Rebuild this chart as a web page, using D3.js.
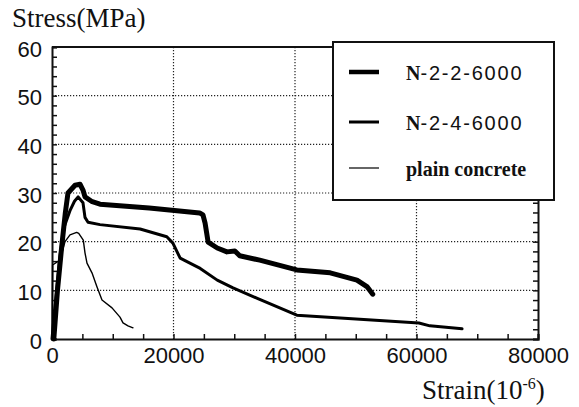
<!DOCTYPE html>
<html>
<head>
<meta charset="utf-8">
<script src="https://cdn.jsdelivr.net/npm/d3@7"></script>
<style>
  body { margin: 0; background: #fff; }
  .tick text { font-family: "Liberation Sans", Arial, sans-serif; font-size: 22px; fill: #111; }
</style>
</head>
<body>
<div id="chart"></div>
<script>
// data

const seriesNames = ["N-2-2-6000", "N-2-4-6000", "plain concrete"];

const strain22 = [300, 900, 1600, 2200, 2630, 3790, 4610, 5100, 5430, 6500, 7900, 16000, 24300, 24850, 25200, 25700, 27200, 28800, 30100, 30900, 34200, 40300, 45800, 50200, 51900, 52800];
const stress22 = [0, 10, 19, 26, 30, 31.6, 31.8, 30.6, 29.2, 28.3, 27.7, 26.9, 25.9, 25.5, 23.8, 19.9, 18.7, 17.9, 18.1, 17.1, 16.2, 14.2, 13.6, 12.1, 10.7, 9.2];

const strain24 = [0, 600, 1300, 2000, 3000, 3700, 4300, 5100, 5430, 5930, 7900, 14500, 18900, 19900, 21100, 22700, 24400, 27200, 29800, 33700, 40300, 60400, 62200, 67500];
const stress24 = [0, 8, 17, 23, 26.5, 28.3, 29.2, 28, 25, 24, 23.5, 22.6, 21, 19.7, 16.6, 15.6, 14.5, 12.1, 10.5, 8.4, 4.9, 3.3, 2.7, 2.1];

const strainPlain = [0, 100, 1300, 2140, 2960, 4060, 4400, 5150, 5430, 5760, 6580, 7410, 8230, 9880, 11190, 11690, 12510, 13330];
const stressPlain = [0, 15.2, 16.2, 20, 21.4, 21.9, 21.7, 20.3, 17.7, 15.6, 13.6, 10.7, 8.0, 6.4, 4.5, 3.3, 2.7, 2.3];

const xTicks = [0, 20000, 40000, 60000, 80000];
const yTicks = [0, 10, 20, 30, 40, 50, 60];

// dimensions

const margin = { top: 47, right: 41, bottom: 68, left: 52 };
const width = 579 - margin.left - margin.right;
const height = 407 - margin.top - margin.bottom;

const x = d3.scaleLinear().domain([0, 80000]).range([0, width]);
const y = d3.scaleLinear().domain([0, 60]).range([height, 0]);

const root = d3.select("#chart")
  .append("svg")
    .attr("width", 579)
    .attr("height", 407);

const svg = root.append("g")
    .attr("transform", `translate(${margin.left},${margin.top})`);

// gridlines (dotted)
svg.selectAll(".xGrid")
  .data(xTicks.slice(1, -1))
  .join("line")
  .attr("x1", d => x(d)).attr("x2", d => x(d))
  .attr("y1", 0).attr("y2", height)
  .attr("stroke", "#222").attr("stroke-width", 1.2)
  .attr("stroke-dasharray", "1.2,1.8");

svg.selectAll(".yGrid")
  .data(yTicks.slice(1, -1))
  .join("line")
  .attr("x1", 0).attr("x2", width)
  .attr("y1", d => y(d)).attr("y2", d => y(d))
  .attr("stroke", "#222").attr("stroke-width", 1.2)
  .attr("stroke-dasharray", "1.2,1.8");

// axes with inward minor ticks
const yAxis = svg.append("g")
  .call(d3.axisLeft(y)
    .tickValues(d3.range(0, 61, 2))
    .tickSize(-5)
    .tickPadding(10)
    .tickFormat(d => d % 10 === 0 ? d : ""));
yAxis.selectAll("text").attr("dy", "0.42em");

const xAxis = svg.append("g")
  .attr("transform", `translate(0,${height})`)
  .call(d3.axisBottom(x)
    .tickValues(d3.range(0, 80001, 5000))
    .tickSize(-5)
    .tickPadding(8)
    .tickFormat(d => d % 20000 === 0 ? d : ""));

svg.append("g")
  .attr("transform", `translate(${width},0)`)
  .call(d3.axisRight(y)
    .tickValues(d3.range(0, 61, 2))
    .tickSize(-5)
    .tickFormat(""));

svg.selectAll(".domain").attr("stroke", "#111").attr("stroke-width", 2);
svg.selectAll(".tick line").attr("stroke", "#111").attr("stroke-width", 1.5);

// top frame line
svg.append("line")
  .attr("x1", 0).attr("x2", width)
  .attr("y1", 0).attr("y2", 0)
  .attr("stroke", "#111").attr("stroke-width", 2);

// curves
const line = d3.line()
  .x(d => x(d[0]))
  .y(d => y(d[1]));

const series = [
  { xs: strain22, ys: stress22, w: 5 },
  { xs: strain24, ys: stress24, w: 3 },
  { xs: strainPlain, ys: stressPlain, w: 1.4 }
];

series.forEach(s => {
  svg.append("path")
    .datum(s.xs.map((v, i) => [v, s.ys[i]]))
    .attr("fill", "none")
    .attr("stroke", "#000")
    .attr("stroke-width", s.w)
    .attr("stroke-linejoin", "round")
    .attr("stroke-linecap", "round")
    .attr("d", line);
});

// axis titles
root.append("text")
  .attr("x", 12).attr("y", 27)
  .attr("font-family", "Liberation Serif, Times New Roman, serif")
  .attr("font-size", 27)
  .attr("fill", "#111")
  .text("Stress(MPa)");

const xt = root.append("text")
  .attr("x", 422).attr("y", 399)
  .attr("font-family", "Liberation Serif, Times New Roman, serif")
  .attr("font-size", 27)
  .attr("fill", "#111");
xt.append("tspan").text("Strain(10");
xt.append("tspan").attr("dy", -10).attr("font-size", 16).text("-6");
xt.append("tspan").attr("dy", 10).text(")");

// legend
const legend = root.append("g");
legend.append("rect")
  .attr("x", 333).attr("y", 42)
  .attr("width", 221).attr("height", 158)
  .attr("fill", "#fff")
  .attr("stroke", "#111").attr("stroke-width", 2);

const legendY = [72, 122, 168];
seriesNames.forEach((name, i) => {
  legend.append("line")
    .attr("x1", 349).attr("x2", 379)
    .attr("y1", legendY[i]).attr("y2", legendY[i])
    .attr("stroke", "#000")
    .attr("stroke-width", series[i].w === 5 ? 4.5 : series[i].w === 3 ? 3 : 1.2);

  const t = legend.append("text")
    .attr("x", 406).attr("y", legendY[i] + 8)
    .attr("font-size", 20)
    .attr("fill", "#111");
  if (name.startsWith("N")) {
    t.append("tspan")
      .attr("font-family", "Liberation Serif, Times New Roman, serif")
      .attr("font-weight", "bold")
      .text("N");
    t.append("tspan")
      .attr("font-family", "Liberation Sans, Arial, sans-serif")
      .attr("letter-spacing", 1.8)
      .text(name.slice(1));
  } else {
    t.attr("font-family", "Liberation Serif, Times New Roman, serif")
      .attr("font-weight", "bold")
      .text(name);
  }
});
</script>
</body>
</html>
